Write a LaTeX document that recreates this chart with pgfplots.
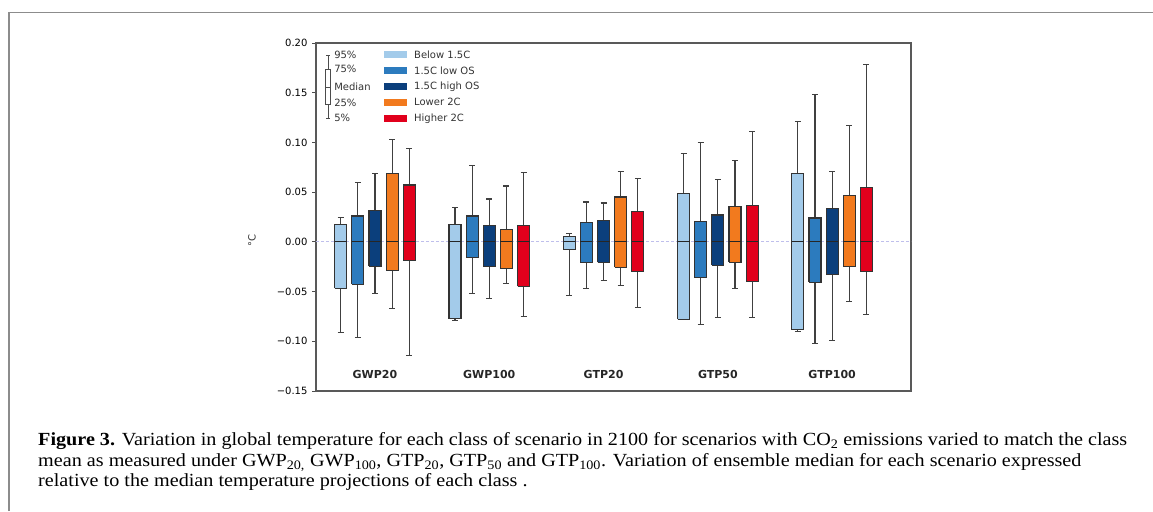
\documentclass[border=0pt]{standalone}
\usepackage{fontspec}
\setmainfont{Liberation Serif}
\newfontfamily\capfont[FakeStretch=1.09]{Liberation Serif}
\newfontfamily\dejavu{DejaVu Sans}
\usepackage{pgfplots}
\pgfplotsset{compat=1.18}
\definecolor{cA}{HTML}{A3CBEA}
\definecolor{cB}{HTML}{2C7BBE}
\definecolor{cC}{HTML}{0B3F7C}
\definecolor{cD}{HTML}{F27A1E}
\definecolor{cE}{HTML}{E1001C}
% \bx{colour}{position}{lower whisker}{lower quartile}{median}{upper quartile}{upper whisker}
\newcommand{\bx}[7]{%
\pgfmathsetmacro{\xl}{#2-0.0525}%
\pgfmathsetmacro{\xr}{#2+0.0525}%
\pgfmathsetmacro{\cl}{#2-0.026}%
\pgfmathsetmacro{\cr}{#2+0.026}%
\addplot[draw=black!75, line width=1.15pt] coordinates {(#2,#6) (#2,#7)};
\addplot[draw=black!75, line width=1.15pt] coordinates {(#2,#4) (#2,#3)};
\addplot[draw=black!75, line width=1.15pt] coordinates {(\cl,#7) (\cr,#7)};
\addplot[draw=black!75, line width=1.15pt] coordinates {(\cl,#3) (\cr,#3)};
\addplot[fill=#1, draw=black!80, line width=1.05pt] coordinates {(\xl,#4) (\xr,#4) (\xr,#6) (\xl,#6) (\xl,#4)};
\addplot[draw=black!85, line width=1.05pt] coordinates {(\xl,#5) (\xr,#5)};
}
\begin{document}
\begin{tikzpicture}
\useasboundingbox (0,0) rectangle (1153pt,511pt);
\draw[line width=1.8pt, color=black!45] (9pt,0) -- (9pt,498.5pt) -- (1153pt,498.5pt);
\begin{axis}[
  at={(316pt,120pt)}, anchor=south west,
  scale only axis, width=595pt, height=348pt,
  xmin=0.484, xmax=5.69, ymin=-0.15, ymax=0.20,
  xtick=\empty,
  ytick={-0.15,-0.10,-0.05,0,0.05,0.10,0.15,0.20},
  yticklabels={−0.15,−0.10,−0.05,0.00,0.05,0.10,0.15,0.20},
  y tick label style={font=\dejavu\fontsize{10}{12}\selectfont, xshift=-1pt},
  tick align=outside, ytick pos=left, major tick length=4pt,
  tick style={black!70, line width=0.8pt},
  axis line style={black!65, line width=1.2pt},
  clip=false,
]
\addplot[dash pattern=on 3pt off 2pt, color=black!30!blue!25!white, line width=0.8pt] coordinates {(0.484,0) (5.69,0)};
% GWP20
\bx{cA}{0.70}{-0.0909}{-0.0469}{0}{0.0172}{0.0247}
\bx{cB}{0.85}{-0.0962}{-0.0428}{0}{0.0260}{0.0596}
\bx{cC}{1.00}{-0.0523}{-0.0244}{0}{0.0320}{0.0690}
\bx{cD}{1.15}{-0.0674}{-0.0287}{0}{0.0690}{0.1033}
\bx{cE}{1.30}{-0.1147}{-0.0190}{0}{0.0572}{0.0938}
% GWP100
\bx{cA}{1.70}{-0.0788}{-0.0775}{0}{0.0172}{0.0348}
\bx{cB}{1.85}{-0.0523}{-0.0160}{0}{0.0260}{0.0767}
\bx{cC}{2.00}{-0.0566}{-0.0244}{0}{0.0162}{0.0431}
\bx{cD}{2.15}{-0.0418}{-0.0267}{0}{0.0129}{0.0562}
\bx{cE}{2.30}{-0.0748}{-0.0445}{0}{0.0162}{0.0700}
% GTP20
\bx{cA}{2.70}{-0.0543}{-0.0076}{0}{0.0052}{0.0086}
\bx{cB}{2.85}{-0.0469}{-0.0210}{0}{0.0193}{0.0401}
\bx{cC}{3.00}{-0.0385}{-0.0204}{0}{0.0216}{0.0391}
\bx{cD}{3.15}{-0.0435}{-0.0254}{0}{0.0451}{0.0710}
\bx{cE}{3.30}{-0.0664}{-0.0301}{0}{0.0303}{0.0636}
% GTP50
\bx{cA}{3.70}{-0.0785}{-0.0780}{0}{0.0485}{0.0885}
\bx{cB}{3.85}{-0.0835}{-0.0361}{0}{0.0206}{0.0999}
\bx{cC}{4.00}{-0.0761}{-0.0234}{0}{0.0270}{0.0626}
\bx{cD}{4.15}{-0.0469}{-0.0204}{0}{0.0357}{0.0817}
\bx{cE}{4.30}{-0.0761}{-0.0395}{0}{0.0367}{0.1106}
% GTP100
\bx{cA}{4.70}{-0.0902}{-0.0882}{0}{0.0690}{0.1207}
\bx{cB}{4.85}{-0.1026}{-0.0408}{0}{0.0240}{0.1486}
\bx{cC}{5.00}{-0.0996}{-0.0331}{0}{0.0334}{0.0710}
\bx{cD}{5.15}{-0.0600}{-0.0244}{0}{0.0465}{0.1173}
\bx{cE}{5.30}{-0.0727}{-0.0301}{0}{0.0549}{0.1788}
% key (explanatory box)
\addplot[draw=black!70, line width=0.9pt] coordinates {(0.589,0.1730) (0.589,0.1872)};
\addplot[draw=black!70, line width=0.9pt] coordinates {(0.589,0.1378) (0.589,0.1244)};
\addplot[draw=black!70, line width=0.9pt] coordinates {(0.575,0.1872) (0.603,0.1872)};
\addplot[draw=black!70, line width=0.9pt] coordinates {(0.575,0.1244) (0.603,0.1244)};
\addplot[fill=white, draw=black!70, line width=0.9pt] coordinates {(0.569,0.1378) (0.609,0.1378) (0.609,0.1730) (0.569,0.1730) (0.569,0.1378)};
\addplot[draw=black!70, line width=0.9pt] coordinates {(0.569,0.1557) (0.609,0.1557)};
\begin{scope}[every node/.style={anchor=west, font=\dejavu\fontsize{10}{12}\selectfont, inner sep=0pt, text=black!80}]
\node at (axis cs:0.642,0.1882) {95\%};
\node at (axis cs:0.642,0.1738) {75\%};
\node at (axis cs:0.642,0.1557) {Median};
\node at (axis cs:0.642,0.1401) {25\%};
\node at (axis cs:0.642,0.1244) {5\%};
\fill[cA] (axis cs:1.079,0.1849) rectangle (axis cs:1.280,0.1919);
\fill[cB] (axis cs:1.079,0.1687) rectangle (axis cs:1.280,0.1757);
\fill[cC] (axis cs:1.079,0.1523) rectangle (axis cs:1.280,0.1593);
\fill[cD] (axis cs:1.079,0.1368) rectangle (axis cs:1.280,0.1438);
\fill[cE] (axis cs:1.079,0.1205) rectangle (axis cs:1.280,0.1275);
\node at (axis cs:1.341,0.1884) {Below 1.5C};
\node at (axis cs:1.341,0.1722) {1.5C low OS};
\node at (axis cs:1.341,0.1558) {1.5C high OS};
\node at (axis cs:1.341,0.1403) {Lower 2C};
\node at (axis cs:1.341,0.1240) {Higher 2C};
\end{scope}
\begin{scope}[every node/.style={font=\dejavu\bfseries\fontsize{11}{13}\selectfont, text=black!85}]
\node at (axis cs:1,-0.1332) {GWP20};
\node at (axis cs:2,-0.1332) {GWP100};
\node at (axis cs:3,-0.1332) {GTP20};
\node at (axis cs:4,-0.1332) {GTP50};
\node at (axis cs:5,-0.1332) {GTP100};
\end{scope}
\end{axis}
\node[rotate=90, font=\dejavu\fontsize{10}{12}\selectfont, text=black!80] at (252pt,270pt) {°C};
\begin{scope}[every node/.style={anchor=base west, inner sep=0pt, font=\capfont\fontsize{18.5}{22}\selectfont}]
\node at (38pt,65pt) {\textbf{Figure 3.} Variation in global temperature for each class of scenario in 2100 for scenarios with CO\textsubscript{2} emissions varied to match the class};
\node at (38pt,44pt) {mean as measured under GWP\textsubscript{20,} GWP\textsubscript{100}, GTP\textsubscript{20}, GTP\textsubscript{50} and GTP\textsubscript{100}. Variation of ensemble median for each scenario expressed};
\node at (38pt,24pt) {relative to the median temperature projections of each class .};
\end{scope}
\end{tikzpicture}
\end{document}
